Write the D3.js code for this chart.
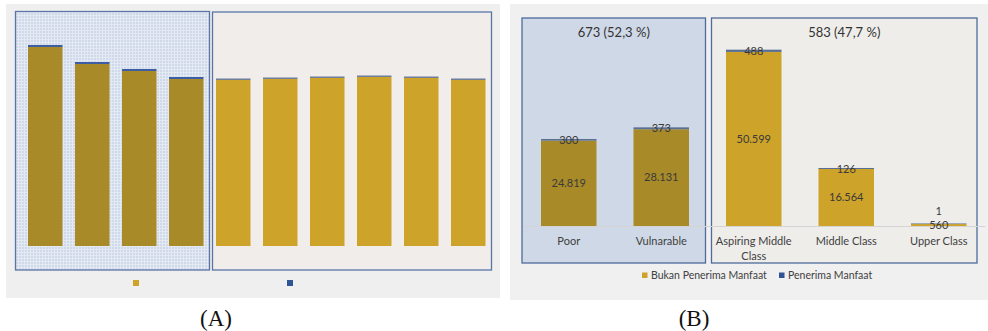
<!DOCTYPE html>
<html>
<head>
<meta charset="utf-8">
<script src="https://cdn.jsdelivr.net/npm/d3@7"></script>
<style>
  body { margin: 0; background: #ffffff; }
  svg { display: block; }
</style>
</head>
<body>
<svg id="chart"></svg>
<script>
// Panel A (no labels in the picture)
const barsA = ["a1", "a2", "a3", "a4", "a5", "a6", "a7", "a8", "a9", "a10"];
const groupA = ["L", "L", "L", "L", "R", "R", "R", "R", "R", "R"];
const bukanA = [199, 182, 175, 167, 166, 167, 168, 169, 168, 166];
const penerimaA = [2, 2, 2, 2, 1.5, 1.5, 1.5, 1.5, 1.5, 1.5];

// Panel B
const categoriesB = ["Poor", "Vulnarable", "Aspiring Middle Class", "Middle Class", "Upper Class"];
const groupB = ["L", "L", "R", "R", "R"];
const bukanB = [24819, 28131, 50599, 16564, 560];
const penerimaB = [300, 373, 488, 126, 1];
const groupTitles = ["673 (52,3 %)", "583 (47,7 %)"];
const seriesNames = ["Bukan Penerima Manfaat", "Penerima Manfaat"];

const width = 988, height = 331;
const gold = "#cda329", olive = "#a88a28", blue = "#2f5597";
const fmt = d3.format(",");
const idFmt = v => fmt(v).replace(/,/g, ".");

const svg = d3.select("#chart").attr("width", width).attr("height", height);

// grid texture for panel A left box
const defs = svg.append("defs");
const pat = defs.append("pattern")
  .attr("id", "grid")
  .attr("width", 3).attr("height", 3)
  .attr("patternUnits", "userSpaceOnUse");
pat.append("rect").attr("width", 3).attr("height", 3).attr("fill", "#cfd9ea");
pat.append("path").attr("d", "M0,0.5H3M0.5,0V3")
  .attr("stroke", "#e4eaf4").attr("stroke-width", 1);

// ---------- Panel A ----------
svg.append("rect")
  .attr("x", 6).attr("y", 4).attr("width", 494).attr("height", 294)
  .attr("fill", "#efefef");

const xA = d3.scaleBand().domain(barsA).range([21.75, 491.75])
  .paddingInner(0.266).paddingOuter(0.133);
const yA = d3.scaleLinear().domain([0, 200]).range([246, 46]);

function boxA(grp) {
  const idx = barsA.filter((d, i) => groupA[i] === grp);
  return [xA(idx[0]), xA(idx[idx.length - 1]) + xA.bandwidth()];
}
const [la0, la1] = boxA("L");
const [ra0, ra1] = boxA("R");
svg.append("rect")
  .attr("x", la0 - 12.5).attr("y", 11.5)
  .attr("width", la1 - la0 + 18.5).attr("height", 258.5)
  .attr("fill", "url(#grid)").attr("stroke", "#5a74a6").attr("stroke-width", 1.3);
svg.append("rect")
  .attr("x", ra0 - 3.5).attr("y", 12)
  .attr("width", ra1 - ra0 + 9.5).attr("height", 258)
  .attr("fill", "#f0edea").attr("stroke", "#5a74a6").attr("stroke-width", 1.3);

svg.selectAll(".barA")
  .data(barsA)
  .enter()
  .append("rect")
  .attr("class", "barA")
  .attr("x", d => xA(d))
  .attr("y", (d, i) => yA(bukanA[i]))
  .attr("width", xA.bandwidth())
  .attr("height", (d, i) => yA(0) - yA(bukanA[i]))
  .attr("fill", (d, i) => groupA[i] === "L" ? olive : gold);

svg.selectAll(".capA")
  .data(barsA)
  .enter()
  .append("rect")
  .attr("class", "capA")
  .attr("x", d => xA(d))
  .attr("y", (d, i) => yA(bukanA[i] + penerimaA[i]))
  .attr("width", xA.bandwidth())
  .attr("height", (d, i) => yA(bukanA[i]) - yA(bukanA[i] + penerimaA[i]))
  .attr("fill", (d, i) => groupA[i] === "L" ? "#3d5ea3" : "#6f7f99");

// legend A (swatches only)
svg.selectAll(".legA")
  .data([gold, blue])
  .enter()
  .append("rect")
  .attr("x", (d, i) => 133 + i * 154)
  .attr("y", 280)
  .attr("width", 6).attr("height", 6)
  .attr("fill", d => d);

// ---------- Panel B ----------
svg.append("rect")
  .attr("x", 510).attr("y", 4).attr("width", 478).attr("height", 296)
  .attr("fill", "#f0f0f0");

const xB = d3.scaleBand().domain(categoriesB).range([522.5, 985])
  .paddingInner(0.4).paddingOuter(0.2);
const yB = d3.scaleLinear().domain([0, 60000]).range([226, 19.6]);

function boxB(grp) {
  const idx = categoriesB.filter((d, i) => groupB[i] === grp);
  return [xB(idx[0]), xB(idx[idx.length - 1]) + xB.bandwidth()];
}
const boxes = [boxB("L"), boxB("R")];
const boxRects = [
  { x0: boxes[0][0] - 19, x1: boxes[0][1] + 16.5, fill: "#cfd8e6" },
  { x0: boxes[1][0] - 14.5, x1: boxes[1][1] + 10.5, fill: "#efedea" }
];
svg.selectAll(".boxB")
  .data(boxRects)
  .enter()
  .append("rect")
  .attr("class", "boxB")
  .attr("x", d => d.x0).attr("y", 18)
  .attr("width", d => d.x1 - d.x0).attr("height", 245)
  .attr("fill", d => d.fill)
  .attr("stroke", "#4f6a9c").attr("stroke-width", 1.3);

// baseline
svg.append("g")
  .attr("transform", "translate(0," + yB(0) + ")")
  .call(d3.axisBottom(xB).tickSize(0).tickFormat(""))
  .call(g => g.select(".domain").attr("stroke", "#d4d4d4").attr("stroke-width", 1));

svg.selectAll(".gtitle")
  .data(groupTitles)
  .enter()
  .append("text")
  .attr("x", (d, i) => (boxRects[i].x0 + boxRects[i].x1) / 2)
  .attr("y", 37)
  .style("text-anchor", "middle")
  .style("font-family", "Lato, sans-serif")
  .style("font-size", "13px")
  .attr("fill", "#333")
  .text(d => d);

svg.selectAll(".barB")
  .data(categoriesB)
  .enter()
  .append("rect")
  .attr("class", "barB")
  .attr("x", d => xB(d))
  .attr("y", (d, i) => yB(bukanB[i]))
  .attr("width", xB.bandwidth())
  .attr("height", (d, i) => yB(0) - yB(bukanB[i]))
  .attr("fill", (d, i) => groupB[i] === "L" ? olive : gold);

svg.selectAll(".capB")
  .data(categoriesB)
  .enter()
  .append("rect")
  .attr("class", "capB")
  .attr("x", d => xB(d))
  .attr("y", (d, i) => yB(bukanB[i] + penerimaB[i]) - 0.6)
  .attr("width", xB.bandwidth())
  .attr("height", (d, i) => yB(bukanB[i]) - yB(bukanB[i] + penerimaB[i]) + 0.6)
  .attr("fill", "#5a6f94");

const labelStyle = sel => sel
  .style("text-anchor", "middle")
  .style("font-family", "Lato, sans-serif")
  .style("font-size", "11px")
  .attr("dy", "0.35em")
  .attr("fill", "#3a3a3a");

const bukanY = i => (yB(0) + yB(bukanB[i])) / 2;
svg.selectAll(".lblBukan")
  .data(categoriesB)
  .enter()
  .append("text")
  .attr("x", d => xB(d) + xB.bandwidth() / 2)
  .attr("y", (d, i) => bukanY(i))
  .call(labelStyle)
  .text((d, i) => idFmt(bukanB[i]));

svg.selectAll(".lblPenerima")
  .data(categoriesB)
  .enter()
  .append("text")
  .attr("x", d => xB(d) + xB.bandwidth() / 2)
  .attr("y", (d, i) => {
    const y = (yB(bukanB[i]) + yB(bukanB[i] + penerimaB[i])) / 2;
    return Math.abs(y - bukanY(i)) < 12 ? bukanY(i) - 14 : y;
  })
  .call(labelStyle)
  .text((d, i) => idFmt(penerimaB[i]));

// category labels (wrap "Aspiring Middle Class")
const catText = svg.selectAll(".cat")
  .data(categoriesB)
  .enter()
  .append("text")
  .attr("x", d => xB(d) + xB.bandwidth() / 2)
  .attr("y", 245)
  .style("text-anchor", "middle")
  .style("font-family", "Lato, sans-serif")
  .style("font-size", "11px")
  .attr("fill", "#404040");
catText.each(function(d) {
  const lines = d === "Aspiring Middle Class" ? ["Aspiring Middle", "Class"] : [d];
  const t = d3.select(this);
  lines.forEach((l, j) => {
    t.append("tspan")
      .attr("x", xB(d) + xB.bandwidth() / 2)
      .attr("dy", j === 0 ? 0 : 15)
      .text(l);
  });
});

// legend B
const legB = svg.selectAll(".legB")
  .data(seriesNames)
  .enter()
  .append("g")
  .attr("transform", (d, i) => "translate(" + (642 + i * 137) + ",272.5)");
legB.append("rect")
  .attr("width", 5.5).attr("height", 5.5)
  .attr("fill", (d, i) => i === 0 ? gold : blue);
legB.append("text")
  .attr("x", 9).attr("y", 3)
  .attr("dy", "0.35em")
  .style("font-family", "Lato, sans-serif")
  .style("font-size", "10.5px")
  .attr("fill", "#404040")
  .text(d => d);

// captions
svg.selectAll(".caption")
  .data(["(A)", "(B)"])
  .enter()
  .append("text")
  .attr("x", (d, i) => i === 0 ? 216 : 694)
  .attr("y", 326)
  .style("text-anchor", "middle")
  .style("font-family", "'Liberation Serif', serif")
  .style("font-size", "23px")
  .attr("fill", "#111")
  .text(d => d);
</script>
</body>
</html>
